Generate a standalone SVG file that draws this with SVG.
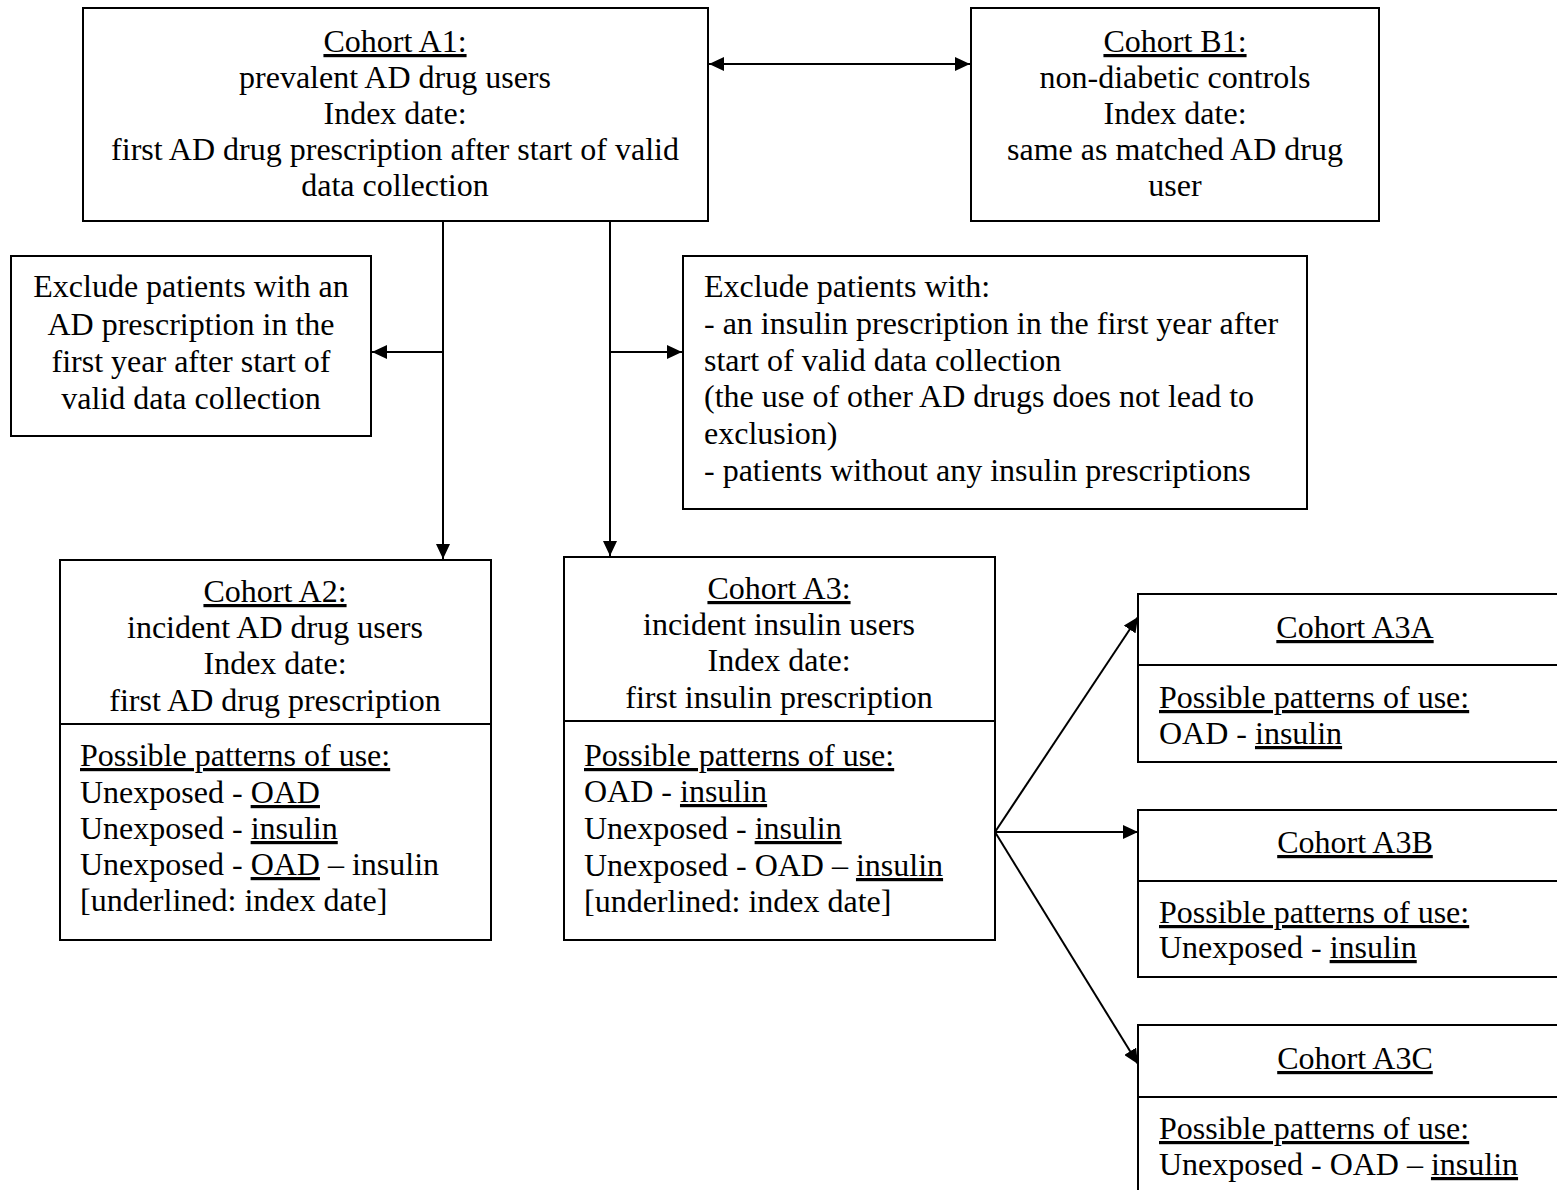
<svg xmlns="http://www.w3.org/2000/svg" width="1557" height="1190" viewBox="0 0 1557 1190">
<style>
text{font-family:"Liberation Serif","Times New Roman",serif;font-size:32px;fill:#000}
.c{text-anchor:middle}
.u{text-decoration:underline}
.box{fill:#fff;stroke:#000;stroke-width:2}
.ln{stroke:#000;stroke-width:2;fill:none}
</style>
<defs>
<marker id="ah" viewBox="0 0 15 14" refX="15" refY="7" markerWidth="15" markerHeight="14" markerUnits="userSpaceOnUse" orient="auto-start-reverse">
<path d="M0,0 L15,7 L0,14 Z" fill="#000"/>
</marker>
</defs>
<rect width="1557" height="1190" fill="#fff"/>
<g id="connectors">
<line class="ln" x1="709" y1="64" x2="970" y2="64" marker-start="url(#ah)" marker-end="url(#ah)"/>
<line class="ln" x1="443" y1="221" x2="443" y2="559" marker-end="url(#ah)"/>
<line class="ln" x1="443" y1="352" x2="372" y2="352" marker-end="url(#ah)"/>
<line class="ln" x1="610" y1="221" x2="610" y2="556" marker-end="url(#ah)"/>
<line class="ln" x1="610" y1="352" x2="682" y2="352" marker-end="url(#ah)"/>
<line class="ln" x1="995" y1="832" x2="1138" y2="617" marker-end="url(#ah)"/>
<line class="ln" x1="995" y1="832" x2="1138" y2="832" marker-end="url(#ah)"/>
<line class="ln" x1="995" y1="832" x2="1138" y2="1064" marker-end="url(#ah)"/>
</g>
<g id="A1">
<rect class="box" x="83" y="8" width="625" height="213"/>
<text class="c u" x="395" y="52">Cohort A1:</text>
<text class="c" x="395" y="88">prevalent AD drug users</text>
<text class="c" x="395" y="124">Index date:</text>
<text class="c" x="395" y="160">first AD drug prescription after start of valid</text>
<text class="c" x="395" y="196">data collection</text>
</g>
<g id="B1">
<rect class="box" x="971" y="8" width="408" height="213"/>
<text class="c u" x="1175" y="52">Cohort B1:</text>
<text class="c" x="1175" y="88">non-diabetic controls</text>
<text class="c" x="1175" y="124">Index date:</text>
<text class="c" x="1175" y="160">same as matched AD drug</text>
<text class="c" x="1175" y="196">user</text>
</g>
<g id="ExcludeLeft">
<rect class="box" x="11" y="256" width="360" height="180"/>
<text class="c" x="191" y="297">Exclude patients with an</text>
<text class="c" x="191" y="335">AD prescription in the</text>
<text class="c" x="191" y="372">first year after start of</text>
<text class="c" x="191" y="409">valid data collection</text>
</g>
<g id="ExcludeRight">
<rect class="box" x="683" y="256" width="624" height="253"/>
<text x="704" y="297">Exclude patients with:</text>
<text x="704" y="334">- an insulin prescription in the first year after</text>
<text x="704" y="371">start of valid data collection</text>
<text x="704" y="407">(the use of other AD drugs does not lead to</text>
<text x="704" y="444">exclusion)</text>
<text x="704" y="481">- patients without any insulin prescriptions</text>
</g>
<g id="A2">
<rect class="box" x="60" y="560" width="431" height="380"/>
<line class="ln" x1="60" y1="724" x2="491" y2="724"/>
<text class="c u" x="275" y="602">Cohort A2:</text>
<text class="c" x="275" y="638">incident AD drug users</text>
<text class="c" x="275" y="674">Index date:</text>
<text class="c" x="275" y="711">first AD drug prescription</text>
<text class="u" x="80" y="766">Possible patterns of use:</text>
<text x="80" y="803">Unexposed - <tspan class="u">OAD</tspan></text>
<text x="80" y="839">Unexposed - <tspan class="u">insulin</tspan></text>
<text x="80" y="875">Unexposed - <tspan class="u">OAD</tspan> – insulin</text>
<text x="80" y="911">[underlined: index date]</text>
</g>
<g id="A3">
<rect class="box" x="564" y="557" width="431" height="383"/>
<line class="ln" x1="564" y1="721" x2="995" y2="721"/>
<text class="c u" x="779" y="599">Cohort A3:</text>
<text class="c" x="779" y="635">incident insulin users</text>
<text class="c" x="779" y="671">Index date:</text>
<text class="c" x="779" y="708">first insulin prescription</text>
<text class="u" x="584" y="766">Possible patterns of use:</text>
<text x="584" y="802">OAD - <tspan class="u">insulin</tspan></text>
<text x="584" y="839">Unexposed - <tspan class="u">insulin</tspan></text>
<text x="584" y="876">Unexposed - OAD – <tspan class="u">insulin</tspan></text>
<text x="584" y="912">[underlined: index date]</text>
</g>
<g id="A3A">
<rect class="box" x="1138" y="594" width="440" height="168"/>
<line class="ln" x1="1138" y1="665" x2="1557" y2="665"/>
<text class="c u" x="1355" y="638">Cohort A3A</text>
<text class="u" x="1159" y="708">Possible patterns of use:</text>
<text x="1159" y="744">OAD - <tspan class="u">insulin</tspan></text>
</g>
<g id="A3B">
<rect class="box" x="1138" y="810" width="440" height="167"/>
<line class="ln" x1="1138" y1="881" x2="1557" y2="881"/>
<text class="c u" x="1355" y="853">Cohort A3B</text>
<text class="u" x="1159" y="923">Possible patterns of use:</text>
<text x="1159" y="958">Unexposed - <tspan class="u">insulin</tspan></text>
</g>
<g id="A3C">
<rect class="box" x="1138" y="1025" width="440" height="200"/>
<line class="ln" x1="1138" y1="1097" x2="1557" y2="1097"/>
<text class="c u" x="1355" y="1069">Cohort A3C</text>
<text class="u" x="1159" y="1139">Possible patterns of use:</text>
<text x="1159" y="1175">Unexposed - OAD – <tspan class="u">insulin</tspan></text>
</g>
</svg>
